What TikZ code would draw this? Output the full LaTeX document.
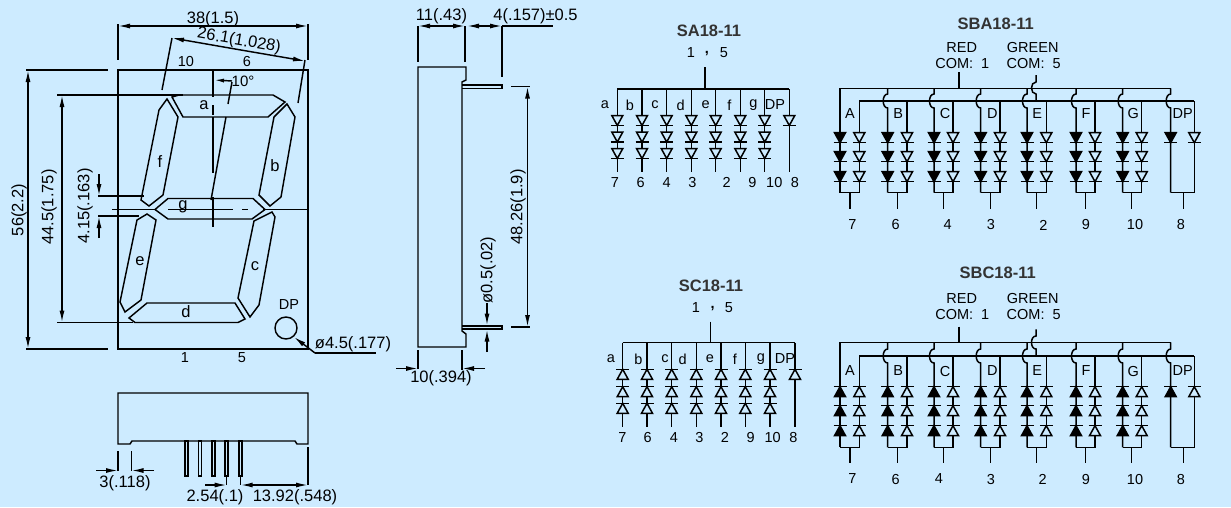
\documentclass[tikz,border=0pt]{standalone}
\usepackage{fontspec}
\setmainfont{Liberation Sans}
\usepackage{tikz}
\usetikzlibrary{arrows.meta}
\definecolor{panel}{HTML}{CDEBFF}
\definecolor{titlegray}{HTML}{333333}
\tikzset{
    line/.style={line width=1.45pt},
    wire/.style={line width=1.5pt},
    dim/.style={line width=1.45pt, -{Latex[length=12pt,width=5pt]}},
    dimtxt/.style={font=\fontsize{16.5}{16.5}\selectfont, inner sep=0pt},
    lbl/.style={font=\fontsize{14.5}{14.5}\selectfont, inner sep=0pt},
    ttl/.style={font=\fontsize{16.5}{16.5}\selectfont\bfseries, text=titlegray, inner sep=0pt},
    diodedn/.pic={
        \draw[wire, pic actions] (-5.5,0) -- (5.5,0) -- (0,10) -- cycle;
        \draw[wire] (-6.5,10) -- (6.5,10);
    },
    diodeup/.pic={
        \draw[wire, pic actions] (-5.5,10) -- (5.5,10) -- (0,0) -- cycle;
        \draw[wire] (-6.5,0) -- (6.5,0);
    }
}
\begin{document}
\begin{tikzpicture}[x=1pt,y=-1pt]
    \fill[panel] (0,0) rectangle (1231,507);
    \useasboundingbox (0,0) rectangle (1231,507);

    % front view
    \draw[line] (118,70) rectangle (308,349);
    \draw[line] (118,24) -- (118,60) (308,24) -- (308,60);
    \draw[dim] (213,26) -- (118,26);
    \draw[dim] (213,26) -- (308,26);
    \node[dimtxt] (width38) at (213,19) {38(1.5)};
    \draw[line] (162,90) -- (172,38) (298,103) -- (305,60);
    \draw[dim] (238,49.5) -- (172,38);
    \draw[dim] (238,49.5) -- (305,61);
    \node[dimtxt, rotate=-10] (pitch26) at (239,41) {26.1(1.028)};
    \node[lbl] (pinten) at (186,62) {10};
    \node[lbl] (pinsix) at (247,62) {6};

    % centre lines and slant
    \draw[line] (213,70) -- (213,97) (213,105) -- (213,115) (213,117) -- (213,173) (213,197) -- (213,227);
    \draw[line] (232,82) -- (228,104) (226,117) -- (211,200);
    \draw[dim, -{Latex[length=10pt,width=4pt]}] (232,81) -- (214,80);
    \node[dimtxt, font=\fontsize{15}{15}\selectfont] (slant) at (243,81) {10°};
    \draw[line] (112,209.5) -- (155,209.5) (168,209.5) -- (233,209.5) (242,209.5) -- (248,209.5) (263,209.5) -- (308,209.5);

    % segments
    \draw[line] (172,97) -- (179,95) -- (273,95) -- (285,102) -- (268,117) -- (183,117) -- cycle;
    \draw[line] (287,104) -- (295,117) -- (281,197) -- (270,206) -- (259,195) -- (274,117) -- cycle;
    \draw[line] (272,212) -- (275,217) -- (259,305) -- (250,317) -- (238,298) -- (254,221) -- cycle;
    \draw[line] (147,303) -- (235,303) -- (245,319) -- (238,322.5) -- (135,322.5) -- (129,318) -- cycle;
    \draw[line] (147,214) -- (156,220) -- (141,300) -- (125,312) -- (120,302) -- (137,220) -- cycle;
    \draw[line] (167,99) -- (178,117) -- (163,195) -- (149,206) -- (141,200) -- (159,110) -- cycle;
    \draw[line] (155,209.5) -- (168,198.5) -- (253,198.5) -- (265,209.5) -- (252,219) -- (168,219) -- cycle;
    \foreach \s/\x/\y in {a/204/105,b/275/166,c/255/266,d/186/312,e/140/261,f/160/162,g/183/207} {
        \node[dimtxt] (seg\s) at (\x,\y) {\s};
    }
    \node[lbl] (dptxt) at (289,305) {DP};
    \draw[line] (286,328) circle (11);
    \coordinate (dpend) at (315,353);
    \draw[dim] (dpend) -- (294,337);
    \draw[line] (dpend) -- (376,353);
    \node[dimtxt] (dpdia) at (353,344) {ø4.5(.177)};
    \node[lbl] (pinone) at (185,358) {1};
    \node[lbl] (pinfive) at (242,358) {5};

    % left dimensions
    \draw[line] (26,70) -- (108,70) (26,349) -- (108,349);
    \draw[dim] (28,210) -- (28,70);
    \draw[dim] (28,210) -- (28,349);
    \node[dimtxt, rotate=90] (height56) at (19,210) {56(2.2)};
    \draw[line] (57,95) -- (183,95) (57,322.5) -- (133,322.5);
    \draw[dim] (62,210) -- (62,95);
    \draw[dim] (62,210) -- (62,322.5);
    \node[dimtxt, rotate=90] (height44) at (49,207) {44.5(1.75)};
    \draw[line] (98,196) -- (144,196) (98,216) -- (139,216);
    \draw[dim] (99,174) -- (99,196);
    \draw[dim] (99,238) -- (99,216);
    \node[dimtxt, rotate=90] (gap415) at (85,206) {4.15(.163)};

    % side view
    \draw[line] (418,67) -- (466,67) -- (466,80) -- (462,82) -- (462,331) -- (466,334) -- (466,347) -- (418,347) -- cycle;
    \draw[line] (462,85) -- (502,85) -- (502,88.5) -- (462,88.5);
    \draw[line] (462,326) -- (502,326) -- (502,329) -- (462,329);
    \draw[line] (418,26) -- (418,62) (465,26) -- (465,62) (502,26) -- (502,77);
    \draw[dim] (441,26) -- (418,26);
    \draw[dim] (441,26) -- (465,26);
    \draw[dim] (486,26) -- (467,26);
    \draw[dim] (484,26) -- (502,26);
    \draw[line] (502,26) -- (553,26);
    \node[dimtxt] (depth11) at (441.5,16) {11(.43)};
    \node[dimtxt] (lead4) at (535.5,16) {4(.157)±0.5};
    \draw[line] (511,86.5) -- (530,86.5) (511,327) -- (530,327);
    \draw[dim] (527.5,207) -- (527.5,86.5);
    \draw[dim] (527.5,207) -- (527.5,327);
    \node[dimtxt, rotate=90] (span48) at (518,207) {48.26(1.9)};
    \draw[dim] (487,303) -- (487,325.5);
    \draw[dim] (487,352) -- (487,329.5);
    \node[dimtxt, rotate=90] (leaddia) at (488,270) {ø0.5(.02)};
    \draw[line] (418,350) -- (418,369) (462,350) -- (462,370);
    \draw[dim] (396,368.5) -- (418,368.5);
    \draw[dim] (485,368.5) -- (462,368.5);
    \node[dimtxt] (depth10) at (441,378) {10(.394)};

    % bottom view
    \draw[line] (118,393) -- (308,393) -- (308,444) -- (297,444) -- (295,441) -- (132,441) -- (130,444) -- (118,444) -- cycle;
    \foreach \x in {186.7,200,213.7,226.7,240.7} {
        \draw[line] (\x-1.5,441) rectangle (\x+1.5,476);
    }
    \draw[line] (118,451) -- (118,471) (131.5,451) -- (131.5,471);
    \draw[dim] (96,470.5) -- (118,470.5);
    \draw[dim] (154,470.5) -- (131.5,470.5);
    \node[dimtxt] (edge3) at (125,483) {3(.118)};
    \draw[line] (226.7,476) -- (226.7,485) (240.7,476) -- (240.7,485) (308,447) -- (308,485);
    \draw[dim] (205,485) -- (226.7,485);
    \draw[dim] (275,485) -- (240.7,485);
    \draw[dim] (275,485) -- (308,485);
    \node[dimtxt] (pitch254) at (215,497) {2.54(.1)};
    \node[dimtxt] (rest1392) at (295,497) {13.92(.548)};

    % SA18-11
    \node[ttl] (satitle) at (709,31) {SA18-11};
    \node[lbl] (saone) at (691,53) {1};
    \node[lbl] (sacomma) at (707,54) {\textbf{,}};
    \node[lbl] (safive) at (724,53) {5};
    \draw[wire] (705,67) -- (705,89);
    \draw[wire] (617.3,89) -- (789.3,89);
    \foreach \x in {617.3,642,666.7,691.3,715.7,740.3,764.7} {
        \draw[wire] (\x,89) -- (\x,172);
        \foreach \y in {115.5,132,148.5} {
            \pic[fill=panel] at (\x,\y) {diodedn};
        }
    }
    \draw[wire] (789.3,89) -- (789.3,172);
    \pic[fill=panel] at (789.3,115.5) {diodedn};
    \foreach \t/\x in {a/605,b/630,c/655,d/680.7,e/705.7,f/729.3,g/753.3,DP/775} {
        \node[lbl] (sa\t) at (\x,105) {\t};
    }
    \foreach \t/\x in {7/615,6/640.7,4/666.7,3/692.3,2/726.7,9/752.3,10/774.3,8/795} {
        \node[lbl] (sapin\t) at (\x,182.7) {\t};
    }

    % SC18-11
    \node[ttl] (sctitle) at (711,285.7) {SC18-11};
    \node[lbl] (scone) at (696,308) {1};
    \node[lbl] (sccomma) at (712.7,309) {\textbf{,}};
    \node[lbl] (scfive) at (729,308) {5};
    \draw[wire] (710.3,321.7) -- (710.3,342.7);
    \draw[wire] (622.7,342.7) -- (795,342.7);
    \foreach \x in {622.7,647,671.7,696.3,721,745.3,770} {
        \draw[wire] (\x,342.7) -- (\x,426.7);
        \foreach \y in {369.3,386.7,403.3} {
            \pic[fill=panel] at (\x,\y) {diodeup};
        }
    }
    \draw[wire] (795,342.7) -- (795,426.7);
    \pic[fill=panel] at (795,369.3) {diodeup};
    \foreach \t/\x in {a/611,b/638.3,c/665,d/682.7,e/710,f/735,g/761,DP/785} {
        \node[lbl] (sc\t) at (\x,359) {\t};
    }
    \foreach \t/\x in {7/622.3,6/647.7,4/674,3/699.3,2/725,9/750.7,10/772.7,8/793.3} {
        \node[lbl] (scpin\t) at (\x,437.7) {\t};
    }

    % SBA18-11
    \node[ttl] (sbatitle) at (995.7,24) {SBA18-11};
    \node[lbl] (sbared) at (961.7,47.3) {RED};
    \node[lbl] (sbacoma) at (962.3,63.3) {COM:\ \ 1};
    \node[lbl] (sbagreen) at (1032.7,47.3) {GREEN};
    \node[lbl] (sbacomb) at (1033.7,63.3) {COM:\ \ 5};
    \draw[wire] (959,72.3) -- (959,88.3);
    \draw[wire] (840,88.3) -- (1171,88.3);
    \draw[wire] (859.3,101) -- (1194.3,101);
    \draw[wire] (1036,75) -- (1036,82) .. controls (1030,82) and (1030,94) .. (1036,94) -- (1036,101);
    \draw[wire] (840,88.3) -- (840,192.7);
    \foreach \x in {887.7,934,980.7,1027,1076,1122.7} {
        \draw[wire] (\x,88.3) -- (\x,94) .. controls (\x-6,94) and (\x-6,108) .. (\x,108) -- (\x,192.7);
    }
    \draw[wire] (1170.7,88.3) -- (1170.7,94) .. controls (1164.7,94) and (1164.7,108) .. (1170.7,108) -- (1170.7,192.7);
    \foreach \r/\g/\m in {840/859.3/850,887.7/907/897.3,934/953/943.3,980.7/1000/990.7,1027/1046.3/1036.7,1076/1095/1085.7,1122.7/1141.7/1131.7} {
        \draw[wire] (\g,101) -- (\g,192.7) -- (\r,192.7);
        \draw[wire] (\m,192.7) -- (\m,209);
        \foreach \y in {132.7,151.7,171.7} {
            \pic[fill=black] at (\r,\y) {diodedn};
            \pic[fill=panel] at (\g,\y) {diodedn};
        }
    }
    \draw[wire] (1194.3,101) -- (1194.3,192.7) -- (1170.7,192.7);
    \draw[wire] (1183.3,192.7) -- (1183.3,209);
    \pic[fill=black] at (1170.7,132.7) {diodedn};
    \pic[fill=panel] at (1194.3,132.7) {diodedn};
    \foreach \t/\x in {A/850,B/898.3,C/945,D/992.3,E/1037.3,F/1086,G/1133.3,DP/1182.7} {
        \node[lbl] (sba\t) at (\x,114) {\t};
    }
    \foreach \t/\x in {7/852.3,6/895.7,4/947.7,3/991,2/1043.3,9/1086,10/1135,8/1181} {
        \node[lbl] (sbapin\t) at (\x,225) {\t};
    }

    % SBC18-11
    \node[ttl] (sbctitle) at (997.7,272.7) {SBC18-11};
    \node[lbl] (sbcred) at (961.7,298.3) {RED};
    \node[lbl] (sbccoma) at (962.3,314.3) {COM:\ \ 1};
    \node[lbl] (sbcgreen) at (1032.7,298.3) {GREEN};
    \node[lbl] (sbccomb) at (1033.7,314.3) {COM:\ \ 5};
    \draw[wire] (959,326.7) -- (959,342.3);
    \draw[wire] (840,342.3) -- (1171,342.3);
    \draw[wire] (859.3,356) -- (1194.3,356);
    \draw[wire] (1036,329.3) -- (1036,336) .. controls (1030,336) and (1030,349) .. (1036,349) -- (1036,356);
    \draw[wire] (840,342.3) -- (840,447.3);
    \foreach \x in {887.7,934,980.7,1027,1076,1122.7} {
        \draw[wire] (\x,342.3) -- (\x,349) .. controls (\x-6,349) and (\x-6,363) .. (\x,363) -- (\x,447.3);
    }
    \draw[wire] (1170.7,342.3) -- (1170.7,349) .. controls (1164.7,349) and (1164.7,363) .. (1170.7,363) -- (1170.7,447.3);
    \foreach \r/\g/\m in {840/859.3/850,887.7/907/897.3,934/953/943.3,980.7/1000/990.7,1027/1046.3/1036.7,1076/1095/1085.7,1122.7/1141.7/1131.7} {
        \draw[wire] (\g,356) -- (\g,447.3) -- (\r,447.3);
        \draw[wire] (\m,447.3) -- (\m,463.3);
        \foreach \y in {386.7,405.7,425.7} {
            \pic[fill=black] at (\r,\y) {diodeup};
            \pic[fill=panel] at (\g,\y) {diodeup};
        }
    }
    \draw[wire] (1194.3,356) -- (1194.3,447.3) -- (1170.7,447.3);
    \draw[wire] (1183.3,447.3) -- (1183.3,463.3);
    \pic[fill=black] at (1170.7,386.7) {diodeup};
    \pic[fill=panel] at (1194.3,386.7) {diodeup};
    \foreach \t/\x in {A/850,B/898.3,C/945,D/992.3,E/1037.3,F/1086,G/1133.3,DP/1182.7} {
        \node[lbl] (sbc\t) at (\x,371) {\t};
    }
    \foreach \t/\x in {7/852.3,6/895.7,4/939,3/991,2/1042.7,9/1086,10/1135,8/1181} {
        \node[lbl] (sbcpin\t) at (\x,479) {\t};
    }
\end{tikzpicture}
\end{document}
